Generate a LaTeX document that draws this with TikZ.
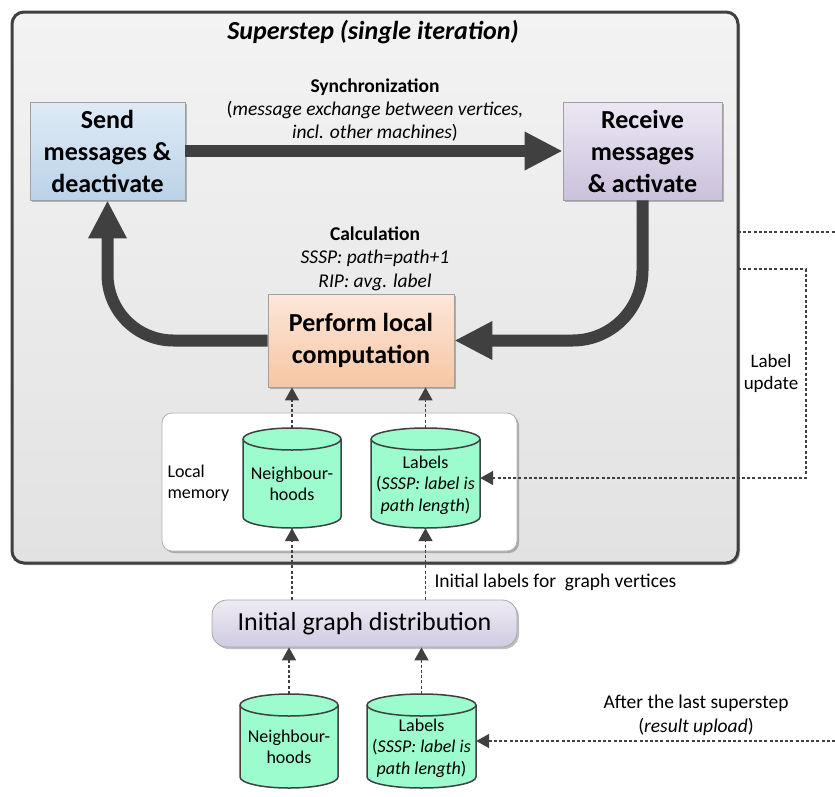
\documentclass[tikz,border=0pt]{standalone}
\usepackage{fontspec}
\setmainfont{Carlito}
\usetikzlibrary{arrows.meta,shadows,calc}
\definecolor{dk}{HTML}{404040}
\definecolor{mint}{HTML}{9CFCCD}
\definecolor{sendT}{HTML}{DFEBF6}
\definecolor{sendB}{HTML}{BAD2E9}
\definecolor{recvT}{HTML}{ECE7F3}
\definecolor{recvB}{HTML}{CBC1DC}
\definecolor{perfT}{HTML}{FCE7DA}
\definecolor{perfB}{HTML}{F6C6A3}
\definecolor{initT}{HTML}{EEEBF4}
\definecolor{initB}{HTML}{D0CBE0}
\definecolor{ssT}{HTML}{F3F3F3}
\definecolor{ssB}{HTML}{E2E2E2}
\newcommand\mycyl[4]{%
  \filldraw[fill=mint,draw=dk,line width=1.5pt] (#1,-#3-11) -- (#1,-#4+11)
    arc[start angle=180,end angle=360,x radius={(#2-#1)/2},y radius=11] -- (#2,-#3-11)
    arc[start angle=0,end angle=180,x radius={(#2-#1)/2},y radius=11] -- cycle;
  \draw[dk,line width=1.5pt] (#1,-#3-11) arc[start angle=180,end angle=360,x radius={(#2-#1)/2},y radius=11];
}
\tikzset{
  shad/.style={drop shadow={shadow xshift=2pt,shadow yshift=-2pt,opacity=0.25,fill=black}},
  bigbox/.style={rectangle,draw=gray!75,line width=0.8pt,align=center,
    font=\fontsize{26}{32}\selectfont\bfseries,shad},
  thickar/.style={dk,line width=12pt,-{Triangle[length=38pt,width=36pt]}},
  dashln/.style={dk,line width=1.8pt,dash pattern=on 3pt off 2.2pt},
  dashar/.style={dashln,-{Triangle[length=13pt,width=14pt]}},
  cylnode/.style={rectangle,inner sep=0pt},
  cyltxt/.style={align=center,font=\fontsize{18}{21.5}\selectfont},
  note/.style={align=center,font=\fontsize{19.5}{23}\selectfont},
}
\begin{document}
\begin{tikzpicture}[x=1pt,y=1pt]
\useasboundingbox (0,0) rectangle (835,-796);
% superstep frame
\node[rectangle,rounded corners=12pt,draw=dk,line width=3pt,top color=ssT,bottom color=ssB,
  minimum width=726pt,minimum height=551pt,shad] (ss) at (375,-287.5) {};
\node[font=\fontsize{26}{30}\selectfont\bfseries\itshape] (title) at (373,-32) {Superstep (single iteration)};
% main boxes
\node[bigbox,top color=sendT,bottom color=sendB,
  minimum width=155pt,minimum height=98pt] (send) at (107.5,-151) {Send\\messages \&\\deactivate};
\node[bigbox,top color=recvT,bottom color=recvB,
  minimum width=159pt,minimum height=98pt] (recv) at (642.5,-151) {Receive\\messages\\\& activate};
\node[bigbox,top color=perfT,bottom color=perfB,
  minimum width=186pt,minimum height=93pt] (perf) at (361,-340.5) {Perform local\\computation};
% annotations
\node[note] (sync) at (375,-110) {\textbf{Synchronization}\\(\textit{message exchange between vertices,}\\\textit{incl. other machines})};
\node[note,font=\fontsize{19.5}{23.5}\selectfont] (calc) at (375,-258.5) {\textbf{Calculation}\\\textit{SSSP: path=path+1}\\\textit{RIP: avg. label}};
% thick arrows
\draw[thickar] (send) -- (recv);
\draw[thickar,rounded corners=70pt] (recv.south) |- (perf.east);
\draw[thickar,rounded corners=66pt] (perf.west) -| (send.south);
% local memory
\node[rectangle,rounded corners=10pt,fill=white,draw=gray!60,line width=0.8pt,
  minimum width=355pt,minimum height=138pt,shad] (lm) at (339.5,-482) {};
\node[align=left,anchor=west,font=\fontsize{18}{21}\selectfont] (lmt) at (164,-483) {Local\\memory};
\mycyl{243}{341}{428}{528}
\mycyl{371}{480}{428}{528}
\node[cylnode,minimum width=98pt,minimum height=100pt] (nb1) at (292,-478) {};
\node[cylnode,minimum width=109pt,minimum height=100pt] (lb1) at (425.5,-478) {};
\node[cyltxt] (nb1t) at (292,-484) {Neighbour-\\hoods};
\node[cyltxt] (lb1t) at (425.5,-485) {Labels\\(\textit{SSSP: label is}\\\textit{path length})};
% initial graph distribution
\node[rectangle,rounded corners=15pt,draw=gray!70,line width=0.8pt,top color=initT,
  bottom color=initB,minimum width=305pt,minimum height=47pt,
  font=\fontsize{26}{30}\selectfont,shad] (init) at (364.5,-623.5) {Initial graph distribution};
\node[note,anchor=west] (initlab) at (431,-582) {Initial labels for\ \ graph vertices};
% bottom cylinders
\mycyl{240}{338}{694}{788}
\mycyl{367}{476}{694}{788}
\node[cylnode,minimum width=98pt,minimum height=94pt] (nb2) at (289,-741) {};
\node[cylnode,minimum width=109pt,minimum height=94pt] (lb2) at (421.5,-741) {};
\node[cyltxt] (nb2t) at (289,-747) {Neighbour-\\hoods};
\node[cyltxt] (lb2t) at (421.5,-748) {Labels\\(\textit{SSSP: label is}\\\textit{path length})};
% dashed arrows
\draw[dashar] (nb1.north) -- (nb1.north |- perf.south);
\draw[dashar] (lb1.north) -- (lb1.north |- perf.south);
\draw[dashar] (nb1.south |- init.north) -- (nb1.south);
\draw[dashar] (lb1.south |- init.north) -- (lb1.south);
\draw[dashar] (nb2.north) -- (nb2.north |- init.south);
\draw[dashar] (lb2.north) -- (lb2.north |- init.south);
% right side
\coordinate (r1a) at (738,-232);
\coordinate (r1b) at (835,-232);
\draw[dashln] (r1a) -- (r1b);
\coordinate (lu) at (738,-269);
\coordinate (luc) at (806,-478);
\draw[dashar] (lu) -| (luc) -- (lb1.east);
\node[align=center,font=\fontsize{19}{22}\selectfont] (lut) at (771,-373) {Label\\update};
\coordinate (bin) at (835,-741);
\draw[dashar] (bin) -- (lb2.east);
\node[note,font=\fontsize{19.5}{24}\selectfont] (after) at (696,-715) {After the last superstep\\(\textit{result upload})};
\end{tikzpicture}
\end{document}
